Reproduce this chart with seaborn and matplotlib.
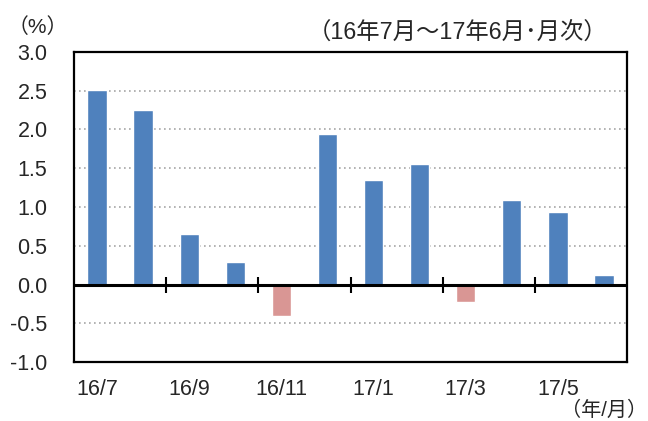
import numpy as np
import pandas as pd
import matplotlib
matplotlib.use("Agg")
import matplotlib.pyplot as plt
import seaborn as sns

MONTHS = ["16/7", "16/8", "16/9", "16/10", "16/11", "16/12",
          "17/1", "17/2", "17/3", "17/4", "17/5", "17/6"]
VALUES = [2.51, 2.25, 0.65, 0.29, -0.41, 1.94, 1.35, 1.55, -0.22, 1.09, 0.94, 0.12]
Y_TICKS = [-1.0, -0.5, 0.0, 0.5, 1.0, 1.5, 2.0, 2.5, 3.0]

BLUE = "#4F81BD"
PINK = "#D99694"

sns.set_style("white")
plt.rcParams["font.family"] = ["Liberation Sans", "Noto Sans CJK JP"]

df = pd.DataFrame({"month": MONTHS, "value": VALUES})
df["sign"] = np.where(df["value"] >= 0, "pos", "neg")

fig = plt.figure(figsize=(6.48, 4.21), dpi=100)
ax = fig.add_axes([0.1142, 0.1401, 0.8534, 0.7364])

sns.barplot(data=df, x="month", y="value", hue="sign", order=MONTHS,
            palette={"pos": BLUE, "neg": PINK}, dodge=False, width=0.42,
            legend=False, saturation=1, ax=ax, zorder=3)

n = len(MONTHS)
ax.set_xlim(-0.5, n - 0.5)
ax.set_ylim(-1.0, 3.0)
ax.set_yticks(Y_TICKS)
ax.set_yticklabels([f"{v:.1f}" for v in Y_TICKS], fontsize=15.5)
ax.set_xticks(range(0, n, 2))
ax.set_xticklabels(MONTHS[::2], fontsize=15.5)
ax.tick_params(axis="x", length=0, pad=12)
ax.tick_params(axis="y", length=5, width=1.5, color="black", direction="out", pad=14)
ax.set_xlabel("")
ax.set_ylabel("")

# dotted gridlines, skipping the zero line and frame
for v in Y_TICKS:
    if v not in (0.0, -1.0, 3.0):
        ax.axhline(v, color="#A6A6A6", linestyle=(0, (1, 2)), linewidth=1.2, zorder=1)

ax.axhline(0, color="black", linewidth=2.2, zorder=4)
bounds = np.arange(1.5, n - 1, 2)
ax.plot(bounds, np.zeros_like(bounds), linestyle="none", marker="|",
        markersize=11, markeredgewidth=1.5, color="black", zorder=5)

for s in ax.spines.values():
    s.set_visible(True)
    s.set_color("black")
    s.set_linewidth(1.6)

fig.text(0.012, 0.935, "（%）", fontsize=15, ha="left", va="center")
fig.text(0.937, 0.923, "（16年7月～17年6月･月次）", fontsize=16.8, ha="right", va="center")
fig.text(0.998, 0.026, "（年/月）", fontsize=14.5, ha="right", va="center")

fig.savefig("out.png", dpi=100)
